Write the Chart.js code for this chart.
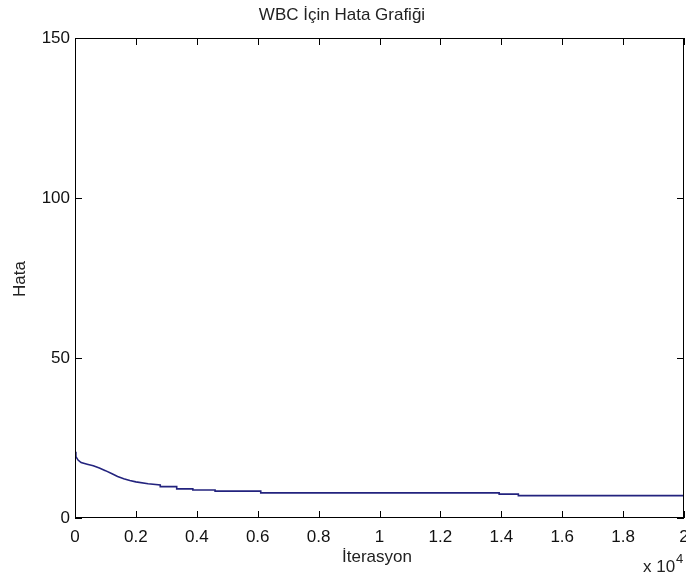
<!DOCTYPE html>
<html>
<head>
<meta charset="utf-8">
<script src="https://cdn.jsdelivr.net/npm/chart.js@4/dist/chart.umd.min.js"></script>
<style>
  html, body { margin: 0; padding: 0; background: #fff; }
  #wrap { width: 686px; height: 577px; position: relative; }
</style>
</head>
<body>
<div id="wrap"><canvas id="errChart" width="686" height="577"></canvas></div>
<script>
// -------------------- Data --------------------
// iteration count in units of 1e4
const iterations = [0, 0.003, 0.01, 0.02, 0.04, 0.06, 0.08, 0.1, 0.12, 0.14, 0.16, 0.18, 0.2, 0.24, 0.28,
                    0.28, 0.334, 0.334, 0.387, 0.387, 0.46, 0.46, 0.61, 0.61, 1.393, 1.393, 1.456, 1.456, 2.0];
const errors     = [20.7, 19.2, 18.1, 17.3, 16.8, 16.3, 15.6, 14.8, 13.9, 13.0, 12.3, 11.7, 11.3, 10.7, 10.3,
                    9.8, 9.8, 9.1, 9.1, 8.75, 8.75, 8.4, 8.4, 7.85, 7.85, 7.45, 7.45, 7.0, 7.0];

const xTicks = [0, 0.2, 0.4, 0.6, 0.8, 1, 1.2, 1.4, 1.6, 1.8, 2];
const yTicks = [0, 50, 100, 150];

const titleText = "WBC İçin Hata Grafiği";
const xLabel = "İterasyon";
const yLabel = "Hata";

const FONT = "Liberation Sans, Arial, sans-serif";

// -------------------- Frame, inward ticks and texts --------------------
const matlabFrame = {
  id: "matlabFrame",
  afterDraw(chart) {
    const { ctx, chartArea: a, scales } = chart;
    const len = 7;
    ctx.save();
    ctx.strokeStyle = "#000";
    ctx.lineWidth = 1;
    ctx.strokeRect(a.left + 0.5, a.top + 0.5, a.right - a.left - 1, a.bottom - a.top - 1);

    ctx.beginPath();
    xTicks.forEach(v => {
      const x = Math.round(scales.x.getPixelForValue(v)) + 0.5;
      ctx.moveTo(x, a.bottom); ctx.lineTo(x, a.bottom - len);
      ctx.moveTo(x, a.top); ctx.lineTo(x, a.top + len);
    });
    yTicks.forEach(v => {
      const y = Math.round(scales.y.getPixelForValue(v)) + 0.5;
      ctx.moveTo(a.left, y); ctx.lineTo(a.left + len, y);
      ctx.moveTo(a.right, y); ctx.lineTo(a.right - len, y);
    });
    ctx.stroke();

    ctx.fillStyle = "#222";
    ctx.font = "17px " + FONT;
    ctx.textAlign = "center";
    ctx.textBaseline = "middle";
    ctx.fillText(titleText, 342, 15);
    ctx.fillText(xLabel, 377, 557);

    ctx.save();
    ctx.translate(20, 279);
    ctx.rotate(-Math.PI / 2);
    ctx.fillText(yLabel, 0, 0);
    ctx.restore();

    // exponent label
    ctx.textAlign = "left";
    ctx.fillText("x 10", 643, 567);
    ctx.font = "13px " + FONT;
    ctx.fillText("4", 676, 559);
    ctx.restore();
  }
};

// -------------------- Chart --------------------
new Chart(document.getElementById("errChart"), {
  type: "line",
  data: {
    datasets: [{
      data: iterations.map((x, i) => ({ x: x, y: errors[i] })),
      borderColor: "#23237e",
      borderWidth: 1.6,
      pointRadius: 0,
      tension: 0,
      fill: false
    }]
  },
  options: {
    responsive: false,
    animation: false,
    layout: { padding: { top: 38, right: 2, left: 0, bottom: 0 } },
    plugins: {
      legend: { display: false },
      tooltip: { enabled: false },
      title: { display: false }
    },
    scales: {
      x: {
        type: "linear",
        min: 0,
        max: 2,
        grid: { display: false, drawTicks: false },
        border: { display: false },
        afterBuildTicks: (s) => { s.ticks = xTicks.map(v => ({ value: v })); },
        afterFit: (s) => { s.height = 59; s.paddingLeft = 0; s.paddingRight = 0; },
        ticks: {
          padding: 9,
          color: "#111",
          font: { family: FONT, size: 17 },
          maxRotation: 0,
          autoSkip: false,
          callback: (v) => (Number.isInteger(v) ? String(v) : v.toFixed(1))
        }
      },
      y: {
        min: 0,
        max: 150,
        grid: { display: false, drawTicks: false },
        border: { display: false },
        afterBuildTicks: (s) => { s.ticks = yTicks.map(v => ({ value: v })); },
        afterFit: (s) => { s.width = 75; s.paddingTop = 0; s.paddingBottom = 0; },
        ticks: {
          padding: 5,
          color: "#111",
          font: { family: FONT, size: 17 },
          callback: (v) => String(v)
        }
      }
    }
  },
  plugins: [matlabFrame]
});
</script>
</body>
</html>
